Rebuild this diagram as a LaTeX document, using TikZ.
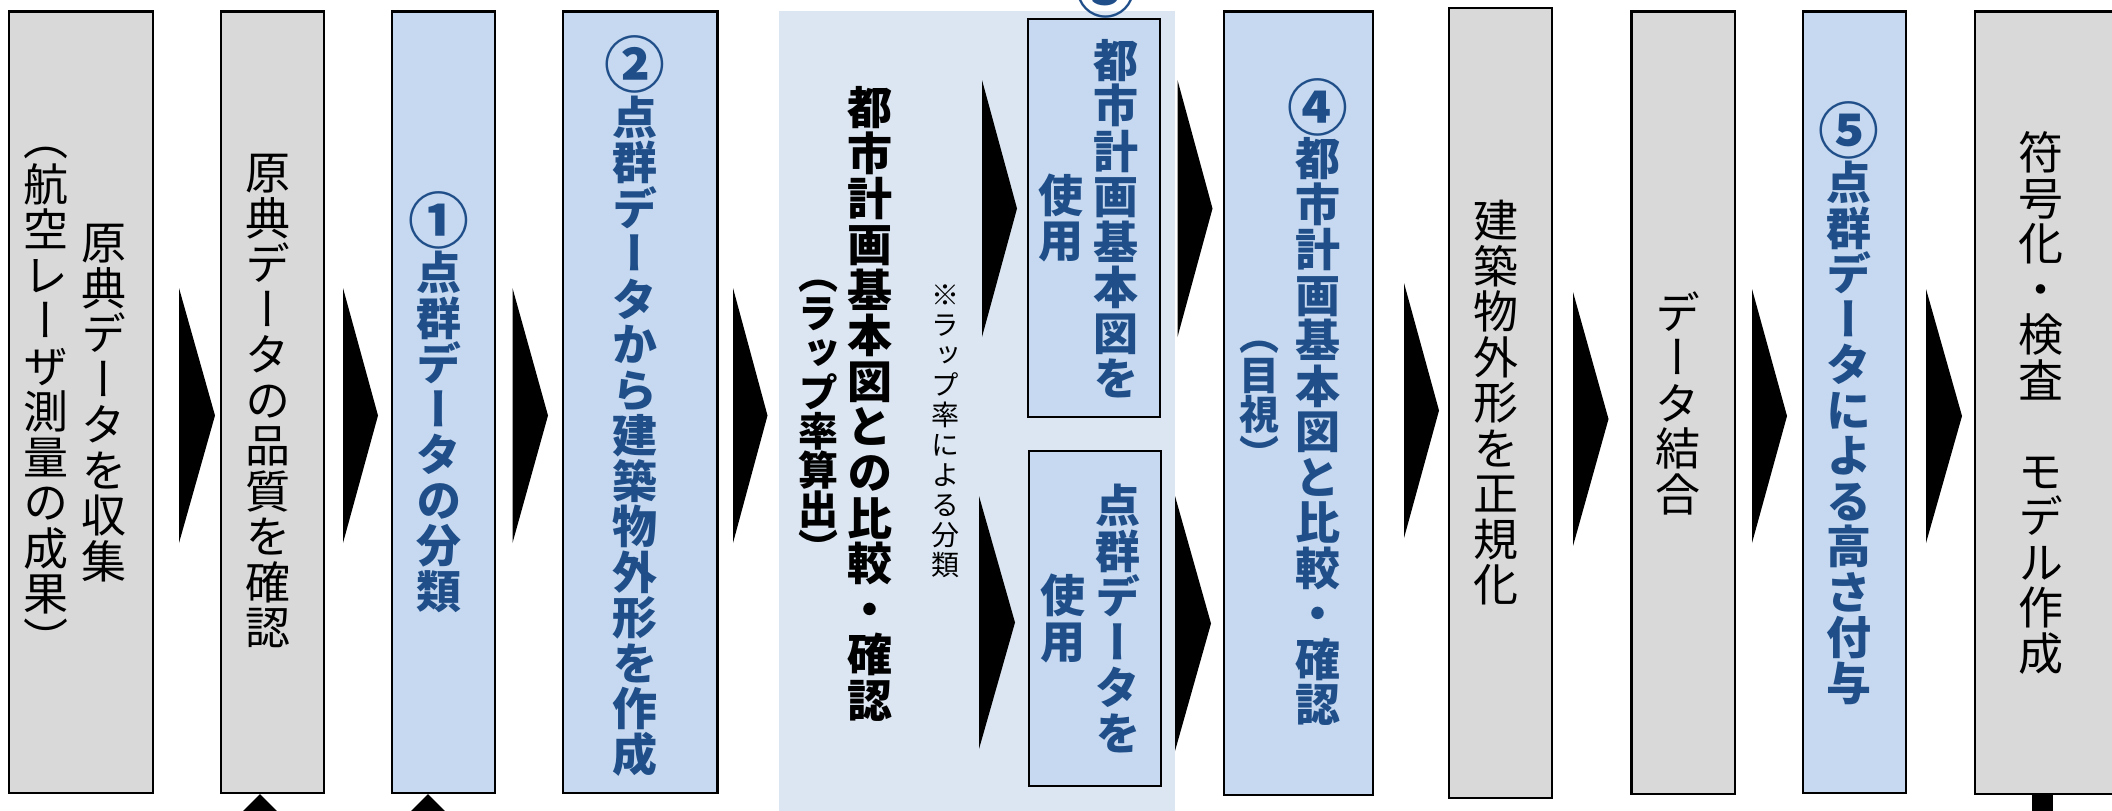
\documentclass[tikz,border=0pt]{standalone}
\usepackage{graphicx}
\usepackage{fontspec}
\newfontfamily\jp[RawFeature=+vert]{Noto Sans CJK JP}
\definecolor{gfill}{HTML}{D9D9D9}
\definecolor{bfill}{HTML}{C6D9F0}
\definecolor{efill}{HTML}{DCE6F2}
\definecolor{tblue}{HTML}{1F4E89}
\tikzset{
  gbox/.style={draw=black, line width=1.1pt, fill=gfill, inner sep=0pt, rectangle},
  bbox/.style={gbox, fill=bfill},
  vt/.style={inner sep=0pt, align=center, font=\jp\fontsize{22.5pt}{22.75pt}\selectfont},
  vtb/.style={vt, font=\jp\bfseries\fontsize{22.5pt}{22.75pt}\selectfont, text=tblue},
  vtk/.style={vt, font=\jp\bfseries\fontsize{22.5pt}{22.8pt}\selectfont, text=black},
  vtp/.style={vt, font=\jp\bfseries\fontsize{20pt}{19.6pt}\selectfont},
  vts/.style={vt, font=\jp\fontsize{14pt}{15pt}\selectfont},
  chevfill/.style={fill=black}
}
\newcommand\cnum[1]{\raisebox{-0.13em}{\scalebox{1.35}{#1}}}
\newcommand\boxnode[6]{\node[#1, minimum width={(#5-#3)*0.5pt}, minimum height={(#6-#4)*0.5pt}] (#2) at ({(#3+#5)/2},{(#4+#6)/2}) {};}
\newcommand\chev[4]{\fill[chevfill] (#1,#3) -- (#2,{(#3+#4)/2}) -- (#1,#4) -- cycle;}
\begin{document}
\begin{tikzpicture}[x=0.5pt,y=-0.5pt]
\useasboundingbox (0,0) rectangle (2112,810);
\clip (0,0) rectangle (2112,810);
% region E
\fill[efill] (778.6,10.5) rectangle (1175,830);
% boxes
\boxnode{gbox}{A}{9.3}{11.4}{153}{793}
\boxnode{gbox}{B}{221}{11.4}{324}{793}
\boxnode{bbox}{C}{392}{11.4}{495}{793}
\boxnode{bbox}{D}{563}{11.4}{717.5}{793}
\boxnode{bbox}{F1}{1028}{19}{1160}{417}
\boxnode{bbox}{F2}{1028.6}{451}{1161}{786}
\boxnode{bbox}{G}{1224}{11.4}{1373}{795}
\boxnode{gbox}{H}{1449}{7.7}{1552}{798}
\boxnode{gbox}{I}{1631.5}{11.4}{1735}{794}
\boxnode{bbox}{J}{1803}{11.4}{1906}{793}
\boxnode{gbox}{K}{1975}{11.4}{2140}{794}
% chevrons
\chev{179}{215}{288}{543}
\chev{343}{378}{288}{543}
\chev{512.5}{548}{288}{543}
\chev{733}{767.5}{288}{543}
\chev{982}{1017}{80}{337}
\chev{979}{1015}{496}{749}
\chev{1177.5}{1212.5}{80}{337}
\chev{1175}{1211}{496}{751}
\chev{1404}{1439}{283}{538}
\chev{1573}{1608.5}{292}{546}
\chev{1752}{1787}{289}{543}
\chev{1926}{1962}{289}{543}
% marks below boxes
\fill (260,794) -- (279,813) -- (241,813) -- cycle;
\fill (428,794) -- (447,813) -- (409,813) -- cycle;
\fill (2032,794) rectangle (2053,812);
% texts
\node[vt] (tA1) at (103.6,403) {原\\典\\デ\\ー\\タ\\を\\収\\集};
\node[vt] (tA2) at (46,402) {（\\航\\空\\レ\\ー\\ザ\\測\\量\\の\\成\\果\\）};
\node[vt] (tB) at (268,401) {原\\典\\デ\\ー\\タ\\の\\品\\質\\を\\確\\認};
\node[vtb] (tC) at (438.6,402) {\cnum{①}\\点\\群\\デ\\ー\\タ\\の\\分\\類};
\node[vtb] (tD) at (634.6,406) {\cnum{②}\\点\\群\\デ\\ー\\タ\\か\\ら\\建\\築\\物\\外\\形\\を\\作\\成};
\node[vtk] (tE1) at (870,404) {都\\市\\計\\画\\基\\本\\図\\と\\の\\比\\較\\・\\確\\認};
\node[vtp] (tE2) at (818.6,422) {（\\ラ\\ッ\\プ\\率\\算\\出\\）};
\node[vts] (tE3) at (945,431) {※\\ラ\\ッ\\プ\\率\\に\\よ\\る\\分\\類};
\node[vtb] (tF0) at (1106,-11) {\cnum{③}};
\node[vtb] (tF1) at (1116,218.5) {都\\市\\計\\画\\基\\本\\図\\を};
\node[vtb] (tF1u) at (1060.7,218) {使\\用};
\node[vtb] (tF2) at (1118,618.5) {点\\群\\デ\\ー\\タ\\を};
\node[vtb] (tF2u) at (1062.5,618.5) {使\\用};
\node[vtb] (tG1) at (1318,402) {\cnum{④}\\都\\市\\計\\画\\基\\本\\図\\と\\比\\較\\・\\確\\認};
\node[vtb, font=\jp\bfseries\fontsize{20pt}{19.75pt}\selectfont] (tG2) at (1259,405.5) {（\\目\\視\\）};
\node[vt] (tH) at (1496.4,403) {建\\築\\物\\外\\形\\を\\正\\規\\化};
\node[vt] (tI) at (1677.6,403) {デ\\ー\\タ\\結\\合};
\node[vtb] (tJ) at (1849,403) {\cnum{⑤}\\点\\群\\デ\\ー\\タ\\に\\よ\\る\\高\\さ\\付\\与};
\node[vt] (tK) at (2040.6,403) {符\\号\\化\\・\\検\\査\\　\\モ\\デ\\ル\\作\\成};
\end{tikzpicture}
\end{document}
